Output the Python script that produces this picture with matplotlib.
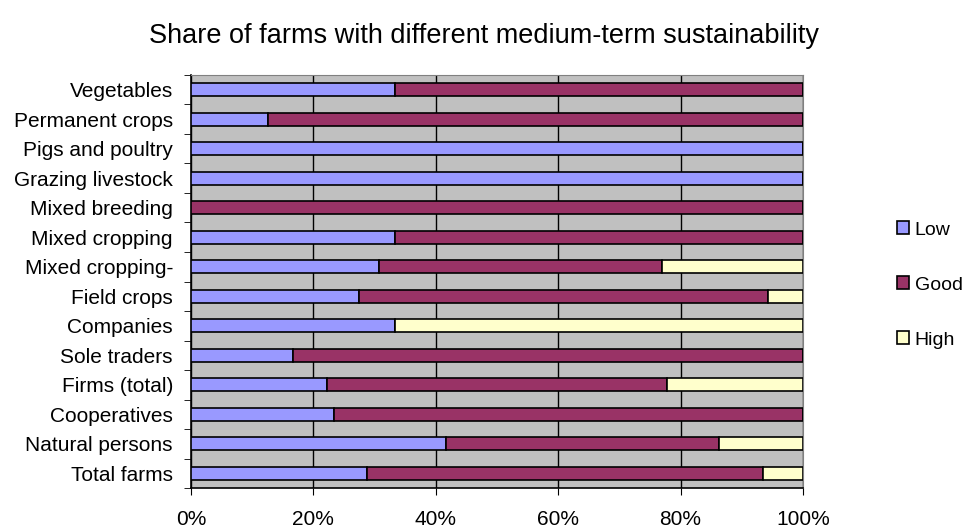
import numpy as np
import matplotlib.pyplot as plt
from matplotlib.patches import Patch

plt.rcParams['font.family'] = ['Liberation Sans', 'DejaVu Sans']

# categories, bottom to top
categories = ['Total farms', 'Natural persons', 'Cooperatives', 'Firms (total)',
              'Sole traders', 'Companies', 'Field crops', 'Mixed cropping-',
              'Mixed cropping', 'Mixed breeding', 'Grazing livestock',
              'Pigs and poultry', 'Permanent crops', 'Vegetables']
low = [28.8, 41.6, 23.3, 22.2, 16.7, 33.3, 27.5, 30.8, 33.3, 0.0, 100.0, 100.0, 12.5, 33.3]
good = [64.7, 44.7, 76.7, 55.6, 83.3, 0.0, 66.7, 46.1, 66.7, 100.0, 0.0, 0.0, 87.5, 66.7]
high = [6.5, 13.7, 0.0, 22.2, 0.0, 66.7, 5.8, 23.1, 0.0, 0.0, 0.0, 0.0, 0.0, 0.0]
series_names = ['Low', 'Good', 'High']
colors = ['#9999FF', '#993366', '#FFFFCC']

fig = plt.figure(figsize=(9.67, 5.28), dpi=100)
ax = fig.add_axes([191 / 967, 1 - 488 / 528, 612 / 967, 413 / 528])
ax.set_facecolor('#C0C0C0')

y = np.arange(len(categories))
left = np.zeros(len(categories))
for vals, c in zip([low, good, high], colors):
    vals = np.array(vals)
    ax.barh(y, vals, left=left, height=0.45, color=c, edgecolor='black',
            linewidth=1.2, zorder=3)
    left = left + vals

ax.set_xlim(0, 100)
ax.set_ylim(-0.5, len(categories) - 0.5)
ax.set_xticks(np.arange(0, 101, 20))
ax.set_xticklabels([f'{v}%' for v in range(0, 101, 20)], fontsize=15)
ax.xaxis.grid(True, color='black', linewidth=1, zorder=1)
ax.set_axisbelow(True)
ax.tick_params(axis='x', direction='out', length=5, pad=11, color='black')

ax.set_yticks(y)
ax.set_yticklabels(categories, fontsize=15)
ax.set_yticks(np.arange(-0.5, len(categories), 1), minor=True)
ax.tick_params(axis='y', which='major', length=0, pad=13)
ax.tick_params(axis='y', which='minor', length=5, direction='out', color='black')

for side in ['top', 'right']:
    ax.spines[side].set_color('#808080')
for side in ['left', 'bottom']:
    ax.spines[side].set_color('black')
    ax.spines[side].set_linewidth(1.2)

fig.text(484 / 967, 1 - 36 / 528, 'Share of farms with different medium-term sustainability',
         ha='center', va='center', fontsize=19.5)

handles = [Patch(facecolor=c, edgecolor='black', linewidth=1.2) for c in colors]
fig.legend(handles, series_names, loc='center left', bbox_to_anchor=(887 / 967, 1 - 285 / 528),
           frameon=False, fontsize=14, handlelength=0.62, handleheight=0.62,
           handletextpad=0.3, labelspacing=1.95, borderpad=0)

fig.savefig('out.png', dpi=100)
